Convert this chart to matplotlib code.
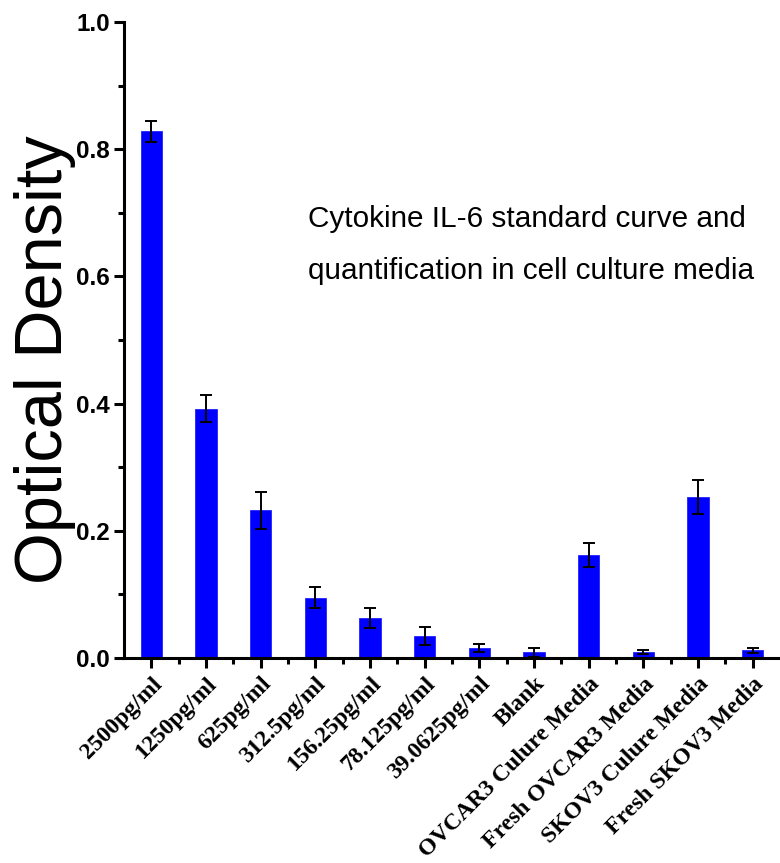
import matplotlib
matplotlib.use("Agg")
import matplotlib.pyplot as plt
from matplotlib.ticker import MultipleLocator, FixedLocator
import numpy as np

categories = ["2500pg/ml", "1250pg/ml", "625pg/ml", "312.5pg/ml", "156.25pg/ml",
              "78.125pg/ml", "39.0625pg/ml", "Blank", "OVCAR3 Culure Media",
              "Fresh OVCAR3 Media", "SKOV3 Culure Media", "Fresh SKOV3 Media"]
od_mean = [0.828, 0.392, 0.232, 0.095, 0.063, 0.035, 0.016, 0.009, 0.162, 0.009, 0.253, 0.012]
od_err = [0.017, 0.021, 0.029, 0.016, 0.015, 0.014, 0.006, 0.007, 0.019, 0.003, 0.027, 0.004]
y_ticks = [0.0, 0.2, 0.4, 0.6, 0.8, 1.0]

fig = plt.figure(figsize=(7.8, 8.63), dpi=100)
ax = fig.add_axes([0.159, 0.2375, 0.841, 0.737])

x = np.arange(1, len(categories) + 1)
ax.bar(x, od_mean, width=0.39, color="#0000ff", edgecolor="#2222ff", linewidth=0.6, zorder=2)
ax.errorbar(x, od_mean, yerr=od_err, fmt="none", ecolor="black", elinewidth=1.4,
            capsize=4.5, capthick=1.4, zorder=3)

ax.set_xlim(0.5, 12.5)
ax.set_ylim(0, 1.0)

for side in ("top", "right"):
    ax.spines[side].set_visible(False)
for side in ("left", "bottom"):
    ax.spines[side].set_linewidth(2.2)

ax.set_yticks(y_ticks)
ax.yaxis.set_minor_locator(MultipleLocator(0.1))
ax.set_yticklabels([f"{v:.1f}" for v in y_ticks],
                   fontdict={"family": "Liberation Sans", "weight": "bold", "size": 17.5})

ax.set_xticks(x)
ax.xaxis.set_minor_locator(FixedLocator(x[:-1] + 0.5))
ax.set_xticklabels(categories, rotation=45, ha="right", va="top", rotation_mode="anchor",
                   fontdict={"family": "Liberation Serif", "weight": "bold", "size": 17})

ax.tick_params(axis="both", which="major", direction="out", length=7, width=2.2, pad=3)
ax.tick_params(axis="both", which="minor", direction="out", length=4.5, width=2.2)
ax.tick_params(axis="x", which="major", pad=4)

ax.set_ylabel("Optical Density", fontfamily="Liberation Sans", fontsize=48)
ax.yaxis.set_label_coords(-0.073, 0.4686)

fig.text(0.395, 0.716, "Cytokine IL-6 standard curve and\nquantification in cell culture media",
         fontfamily="Liberation Sans", fontsize=21.4, va="center", ha="left", linespacing=2.1)

fig.savefig("out.png", dpi=100)
